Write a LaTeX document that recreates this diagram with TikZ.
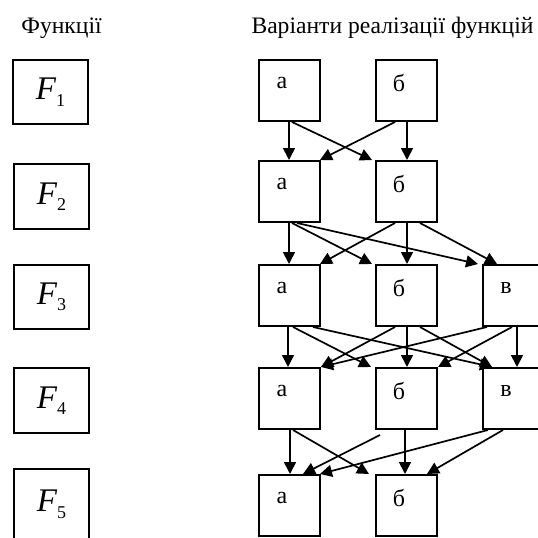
\documentclass[tikz,border=0pt]{standalone}
\usepackage{fontspec}
\setmainfont{Liberation Serif}
\usetikzlibrary{arrows.meta}
\newcommand\Flbl[1]{{\fontsize{33}{33}\selectfont\itshape F}\raisebox{-6.5pt}{\fontsize{18}{18}\selectfont #1}}
\begin{document}
\begin{tikzpicture}[x=1pt,y=-1pt,
  fbox/.style={draw,line width=2pt,minimum width=75pt,minimum height=64pt,anchor=north west,inner sep=0pt},
  vbox/.style={draw,line width=2pt,minimum width=61pt,minimum height=61pt,anchor=north west,inner sep=0pt},
  lbl/.style={font=\fontsize{24}{24}\selectfont,inner sep=0pt},
  hdr/.style={font=\fontsize{23.6}{24}\selectfont,inner sep=0pt},
  arr/.style={line width=1.7pt,-{Triangle[length=12pt,width=12pt]}}]
\useasboundingbox (0,0) rectangle (538,538);
% headers
\node[hdr] (h1) at (61.5,28) {Функції};
\node[hdr] (h2) at (392.5,28) {Варіанти реалізації функцій};
% function boxes
\node[fbox] (F1) at (12,59) {\Flbl{1}};
\node[fbox,minimum height=65pt] (F2) at (13,163) {\Flbl{2}};
\node[fbox] (F3) at (13,264) {\Flbl{3}};
\node[fbox,minimum height=65pt] (F4) at (13,367) {\Flbl{4}};
\node[fbox,minimum height=80pt,text depth=16pt] (F5) at (13,468) {\Flbl{5}};
% variant boxes
\node[vbox] (a1) at (258,59) {};
\node[vbox] (b1) at (375,59) {};
\node[vbox] (a2) at (258,160) {};
\node[vbox] (b2) at (375,160) {};
\node[vbox] (a3) at (258,264) {};
\node[vbox] (b3) at (375,264) {};
\node[vbox] (v3) at (482,264) {};
\node[vbox] (a4) at (258,367) {};
\node[vbox] (b4) at (375,367) {};
\node[vbox] (v4) at (482,367) {};
\node[vbox] (a5) at (258,474) {};
\node[vbox] (b5) at (375,474) {};
% labels
\foreach \n/\t in {a1/а,b1/б,a2/а,b2/б,a3/а,b3/б,v3/в,a4/а,b4/б,v4/в,a5/а,b5/б}{
  \node[lbl] (\n t) at ([xshift=24pt,yshift=-24pt]\n.north west) {\t};
}
% row 1 -> row 2
\draw[arr] ([xshift=31pt]a1.south west) -- ([xshift=31pt]a2.north west);
\draw[arr] ([xshift=34pt]a1.south west) -- ([xshift=-3pt]b2.north west);
\draw[arr] ([xshift=20pt]b1.south west) -- ([xshift=62pt]a2.north west);
\draw[arr] ([xshift=32pt]b1.south west) -- ([xshift=32pt]b2.north west);
% row 2 -> row 3
\draw[arr] ([xshift=31pt]a2.south west) -- ([xshift=31pt]a3.north west);
\draw[arr] ([xshift=34pt]a2.south west) -- ([xshift=-3pt]b3.north west);
\draw[arr] ([xshift=39pt]a2.south west) -- ([xshift=-4pt]v3.north west);
\draw[arr] ([xshift=20pt]b2.south west) -- ([xshift=62pt]a3.north west);
\draw[arr] ([xshift=32pt]b2.south west) -- ([xshift=32pt]b3.north west);
\draw[arr] ([xshift=45pt]b2.south west) -- ([xshift=15pt]v3.north west);
% row 3 -> row 4
\draw[arr] ([xshift=30pt]a3.south west) -- ([xshift=30pt]a4.north west);
\draw[arr] ([xshift=35pt]a3.south west) -- ([xshift=-4pt]b4.north west);
\draw[arr] ([xshift=55pt]a3.south west) -- ([xshift=10pt]v4.north west);
\draw[arr] ([xshift=20pt]b3.south west) -- ([xshift=63pt]a4.north west);
\draw[arr] ([xshift=32pt]b3.south west) -- ([xshift=32pt]b4.north west);
\draw[arr] ([xshift=45pt]b3.south west) -- ([xshift=10pt]v4.north west);
\draw[arr] ([xshift=5pt]v3.south west) -- ([xshift=63pt]a4.north west);
\draw[arr] ([xshift=30pt]v3.south west) -- ([xshift=63pt]b4.north west);
\draw[arr] ([xshift=35pt]v3.south west) -- ([xshift=35pt]v4.north west);
% row 4 -> row 5
\draw[arr] ([xshift=32pt]a4.south west) -- ([xshift=32pt]a5.north west);
\draw[arr] ([xshift=35pt]a4.south west) -- ([xshift=-6pt]b5.north west);
\draw[arr] ([xshift=5pt,yshift=-5pt]b4.south west) -- ([xshift=45pt]a5.north west);
\draw[arr] ([xshift=30pt]b4.south west) -- ([xshift=30pt]b5.north west);
\draw[arr] ([xshift=6pt]v4.south west) -- ([xshift=62pt]a5.north west);
\draw[arr] ([xshift=21pt]v4.south west) -- ([xshift=52pt]b5.north west);
\end{tikzpicture}
\end{document}
